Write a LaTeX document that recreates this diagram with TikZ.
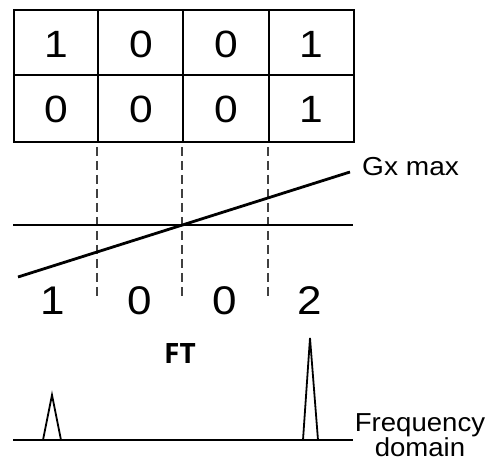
\documentclass[tikz,border=0pt]{standalone}
\usepackage{fontspec}
\setmainfont{Liberation Sans}
\newfontfamily\ftfont{Open Sans}
\begin{document}
\begin{tikzpicture}[x=1pt,y=-1pt,
  gridline/.style={line width=2.2pt},
  dashline/.style={line width=1.4pt, draw=black!75, dash pattern=on 9pt off 5pt},
  thinline/.style={line width=1.9pt},
  slantline/.style={line width=2.8pt},
  celltxt/.style={font=\fontsize{38}{38}\selectfont, inner sep=0pt},
  rowtxt/.style={font=\fontsize{40}{40}\selectfont, inner sep=0pt},
  labeltxt/.style={font=\fontsize{26}{28}\selectfont, inner sep=0pt, align=center}]
\useasboundingbox (0,0) rectangle (488,465);
% grid
\draw[gridline] (14,10) rectangle (354,142);
\draw[gridline] (14,75) -- (354,75);
\draw[gridline] (98,10) -- (98,142);
\draw[gridline] (183,10) -- (183,142);
\draw[gridline] (269,10) -- (269,142);
\node[celltxt] (c11) at (56,44) {\scalebox{1.12}[1]{1}};
\node[celltxt] (c12) at (141,44) {\scalebox{1.12}[1]{0}};
\node[celltxt] (c13) at (226,44) {\scalebox{1.12}[1]{0}};
\node[celltxt] (c14) at (311,44) {\scalebox{1.12}[1]{1}};
\node[celltxt] (c21) at (56,109) {\scalebox{1.12}[1]{0}};
\node[celltxt] (c22) at (141,109) {\scalebox{1.12}[1]{0}};
\node[celltxt] (c23) at (226,109) {\scalebox{1.12}[1]{0}};
\node[celltxt] (c24) at (311,109) {\scalebox{1.12}[1]{1}};
% dashed separators
\coordinate (d1a) at (97,147); \coordinate (d1b) at (97,298);
\coordinate (d2a) at (182,147); \coordinate (d2b) at (182,298);
\coordinate (d3a) at (268,147); \coordinate (d3b) at (268,298);
\draw[dashline] (d1a) -- (d1b);
\draw[dashline] (d2a) -- (d2b);
\draw[dashline] (d3a) -- (d3b);
% axis and gradient
\coordinate (hl) at (13,225); \coordinate (hr) at (353,225);
\draw[thinline] (hl) -- (hr);
\coordinate (gl) at (18,277); \coordinate (gr) at (350,172);
\draw[slantline] (gl) -- (gr);
\node[labeltxt, anchor=west] (gx) at (362,167) {\scalebox{1.08}[1]{Gx max}};
% row of numbers
\node[rowtxt] (n1) at (53,301) {\scalebox{1.1}[1]{1}};
\node[rowtxt] (n2) at (140,301) {\scalebox{1.1}[1]{0}};
\node[rowtxt] (n3) at (225,301) {\scalebox{1.1}[1]{0}};
\node[rowtxt] (n4) at (310,301) {\scalebox{1.1}[1]{2}};
% FT
\node[font=\ftfont\bfseries\fontsize{28}{28}\selectfont, inner sep=0pt] (ft) at (180,354) {FT};
% frequency domain
\coordinate (bl) at (13,440); \coordinate (br) at (353,440);
\draw[thinline] (bl) -- (br);
\coordinate (p1a) at (43,440); \coordinate (p1t) at (52,395); \coordinate (p1b) at (61,440);
\draw[line width=1.8pt, line join=miter] (p1a) -- (p1t) -- (p1b);
\coordinate (p2a) at (303,440); \coordinate (p2t) at (310,338); \coordinate (p2b) at (318,440);
\draw[line width=1.8pt, line join=miter] (p2a) -- (p2t) -- (p2b);
\node[labeltxt] (fd) at (420,435) {\scalebox{1.06}[1]{Frequency}\\[-3pt]\scalebox{1.06}[1]{domain}};
\end{tikzpicture}
\end{document}
